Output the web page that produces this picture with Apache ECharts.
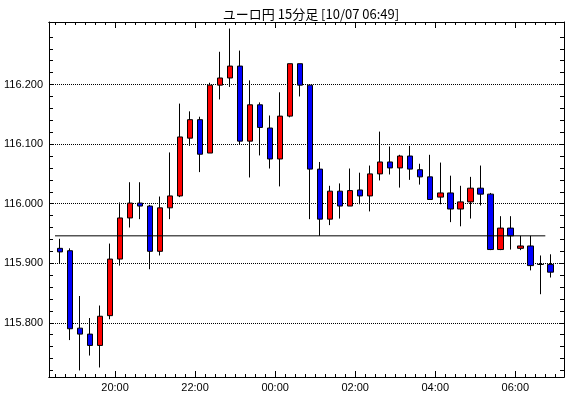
<!DOCTYPE html>
<html>
<head>
<meta charset="utf-8">
<script src="https://cdn.jsdelivr.net/npm/echarts@6/dist/echarts.min.js"></script>
<style>
html, body { margin: 0; padding: 0; background: #fff; }
#main { width: 570px; height: 398px; }
</style>
</head>
<body>
<div id="main"></div>
<script>
// ユーロ円 15分足  18:30 - 06:45
var times = ['18:30', '18:45', '19:00', '19:15', '19:30', '19:45',
  '20:00', '20:15', '20:30', '20:45', '21:00', '21:15', '21:30', '21:45',
  '22:00', '22:15', '22:30', '22:45', '23:00', '23:15', '23:30', '23:45',
  '00:00', '00:15', '00:30', '00:45', '01:00', '01:15', '01:30', '01:45',
  '02:00', '02:15', '02:30', '02:45', '03:00', '03:15', '03:30', '03:45',
  '04:00', '04:15', '04:30', '04:45', '05:00', '05:15', '05:30', '05:45',
  '06:00', '06:15', '06:30', '06:45'];

var open = [115.925, 115.921, 115.791, 115.781, 115.762, 115.812, 115.907, 115.976, 116.001, 115.996,
  115.920, 115.993, 116.013, 116.110, 116.141, 116.085, 116.199, 116.211, 116.231, 116.105,
  116.166, 116.127, 116.075, 116.147, 116.235, 116.199, 116.058, 115.974, 116.021, 115.996,
  116.023, 116.013, 116.050, 116.070, 116.060, 116.080, 116.057, 116.045, 116.011, 116.018,
  115.991, 116.003, 116.026, 116.016, 115.923, 115.959, 115.925, 115.929, 115.898, 115.898];
var close = [115.919, 115.790, 115.781, 115.762, 115.811, 115.907, 115.976, 116.001, 115.996, 115.920,
  115.993, 116.013, 116.112, 116.141, 116.083, 116.199, 116.211, 116.231, 116.105, 116.166,
  116.128, 116.075, 116.147, 116.235, 116.199, 116.058, 115.974, 116.021, 115.996, 116.022,
  116.013, 116.050, 116.070, 116.060, 116.080, 116.058, 116.045, 116.007, 116.018, 115.991,
  116.003, 116.026, 116.016, 115.923, 115.959, 115.946, 115.929, 115.896, 115.898, 115.885];
var low = [115.900, 115.771, 115.720, 115.745, 115.725, 115.806, 115.896, 115.960, 115.974, 115.890,
  115.913, 115.974, 116.011, 116.097, 116.053, 116.085, 116.175, 116.196, 116.100, 116.044,
  116.081, 116.059, 116.029, 116.145, 116.180, 115.974, 115.946, 115.964, 115.975, 115.996,
  115.999, 115.987, 116.039, 116.049, 116.027, 116.040, 116.032, 116.007, 115.999, 115.969,
  115.962, 115.975, 115.997, 115.922, 115.922, 115.923, 115.922, 115.888, 115.848, 115.876];
var high = [115.941, 115.925, 115.845, 115.808, 115.829, 115.933, 116.002, 116.036, 116.036, 115.998,
  116.012, 116.086, 116.168, 116.155, 116.146, 116.203, 116.255, 116.294, 116.257, 116.207,
  116.170, 116.148, 116.187, 116.235, 116.235, 116.199, 116.070, 116.030, 116.034, 116.059,
  116.052, 116.064, 116.121, 116.096, 116.082, 116.097, 116.067, 116.082, 116.069, 116.047,
  116.030, 116.045, 116.064, 116.018, 115.979, 115.979, 115.946, 115.946, 115.913, 115.915];

var majorTimes = ['20:00', '22:00', '00:00', '02:00', '04:00', '06:00'];
var priceLabels = [115.8, 115.9, 116.0, 116.1, 116.2];
var refLevel = 115.946;
var refFrom = '18:30', refTo = '06:45';

var STEP = 15; // minutes per candle
var xMin = -9, xMax = 763;
var yMin = 115.709, yMax = 116.305;

var candles = times.map(function (t, i) {
  return [i * STEP + STEP / 2, open[i], close[i], low[i], high[i]];
});
var minorX = times.map(function (t, i) { return i * STEP; }).concat([times.length * STEP]);
var majorX = majorTimes.map(function (t) { return times.indexOf(t) * STEP; });
var minorY = [];
for (var k = 0; k < 29; k++) minorY.push(+(115.72 + k * 0.02).toFixed(2));

var axisColor = '#000';
function xAxisDef(pos, ticks, len, labels) {
  return {
    type: 'value', position: pos, min: xMin, max: xMax,
    axisLine: { show: true, onZero: false, lineStyle: { color: axisColor, width: 1 } },
    axisTick: { show: true, inside: true, length: len, customValues: ticks, lineStyle: { color: axisColor } },
    axisLabel: labels ? {
      show: true, customValues: majorX, margin: 5,
      color: '#000', fontSize: 11, fontFamily: 'Liberation Sans',
      formatter: function (v) { return times[Math.round(v / STEP)]; }
    } : { show: false },
    splitLine: { show: false }
  };
}
function yAxisDef(pos, labels) {
  return {
    type: 'value', position: pos, min: yMin, max: yMax, scale: true,
    axisLine: { show: true, onZero: false, lineStyle: { color: axisColor, width: 1 } },
    axisTick: { show: true, inside: true, length: 4, customValues: minorY, lineStyle: { color: axisColor } },
    axisLabel: labels ? {
      show: true, customValues: priceLabels, margin: 6,
      color: '#000', fontSize: 11, fontFamily: 'Liberation Sans',
      formatter: function (v) { return v.toFixed(3); }
    } : { show: false },
    splitLine: { show: false }
  };
}

var chart = echarts.init(document.getElementById('main'), null, { renderer: 'canvas' });
chart.setOption({
  animation: false,
  backgroundColor: '#fff',
  title: {
    text: 'ユーロ円 15分足 [10/07 06:49]',
    left: 306, top: 3, textAlign: 'center',
    textStyle: { fontSize: 13, fontWeight: 'normal', color: '#000', fontFamily: 'Noto Sans CJK JP' }
  },
  grid: { left: 49, right: 6, top: 22, bottom: 21, containLabel: false },
  xAxis: [
    xAxisDef('bottom', minorX, 3, false),
    xAxisDef('bottom', majorX, 6, true),
    xAxisDef('top', minorX, 3, false),
    xAxisDef('top', majorX, 6, false)
  ],
  yAxis: [yAxisDef('left', true), yAxisDef('right', false)],
  series: [
    {
      type: 'candlestick',
      xAxisIndex: 0, yAxisIndex: 0,
      barWidth: 6,
      z: 2,
      itemStyle: {
        color: '#ff0000', color0: '#0000ff',
        borderColor: '#000', borderColor0: '#000', borderColorDoji: '#000',
        borderWidth: 1
      },
      data: candles,
      markLine: {
        silent: true, z: 1, symbol: ['none', 'none'],
        label: { show: false },
        lineStyle: { color: '#000', width: 1, type: [1, 1] },
        data: priceLabels.map(function (v) { return { yAxis: v }; })
      }
    },
    {
      type: 'line',
      xAxisIndex: 0, yAxisIndex: 0,
      showSymbol: false, symbol: 'none', silent: true, z: 3,
      lineStyle: { color: '#000', width: 1 },
      data: [[times.indexOf(refFrom) * STEP, refLevel], [times.indexOf(refTo) * STEP, refLevel]]
    }
  ]
});
</script>
</body>
</html>
